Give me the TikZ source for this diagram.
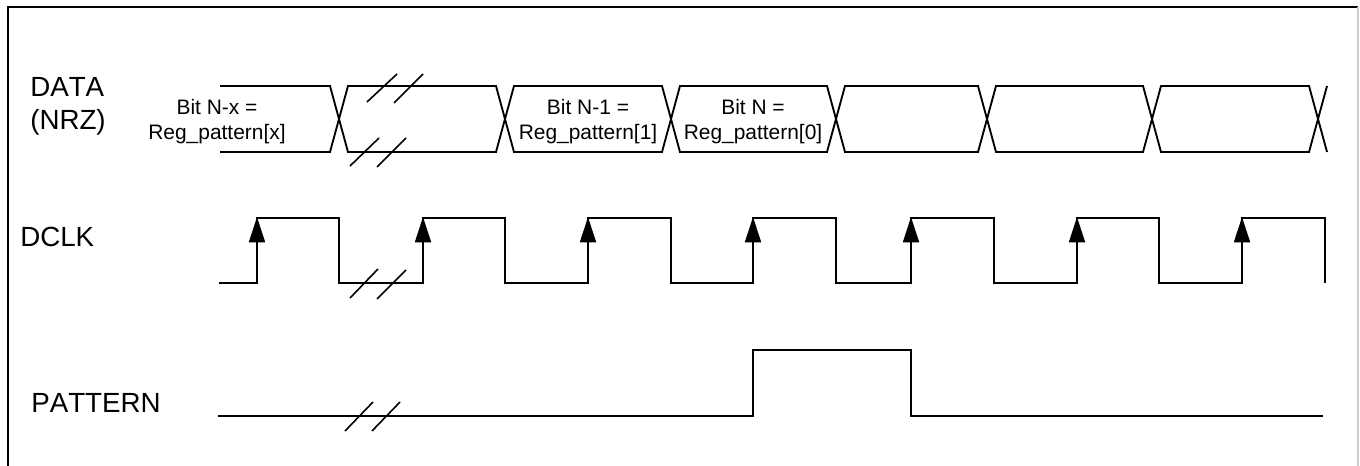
\documentclass[tikz,border=0pt]{standalone}
\usepackage{fontspec}
\setmainfont{Liberation Sans}[Kerning=Off]
\usetikzlibrary{arrows.meta}
\tikzset{
  sig/.style={line width=1.4pt, line join=miter, line cap=butt},
  brk/.style={line width=1.2pt},
  frame/.style={line width=1.4pt},
  edge/.style={line width=1.4pt, -{Triangle[length=19pt 0 0,width=12pt 0 0]}},
  big/.style={font=\fontsize{20.8}{24}\selectfont, inner sep=0pt},
  small/.style={font=\fontsize{15.7}{19}\selectfont, inner sep=0pt, anchor=base},
}
\begin{document}
\begin{tikzpicture}[x=0.75pt,y=-0.75pt]
\useasboundingbox (0,0) rectangle (1360,466);
% frame
\draw[frame] (8,466) -- (8,7) -- (1358,7);
\draw[line width=0.8pt, black!20] (1358,7) -- (1358,466);

% labels
\node[big, anchor=base west] (ldata) at (30,97) {DATA};
\node[big, anchor=base west] (lnrz) at (30,130) {(NRZ)};
\node[big, anchor=base west] (ldclk) at (20,247) {DCLK};
\node[big, anchor=base west] (lpat) at (31,412) {PATTERN};

% DATA waveform
\draw[sig] (220,86) -- (330,86) -- (339,119) -- (330,152) -- (220,152);
\foreach \a/\b in {339/505, 505/671, 671/836, 836/987, 987/1152, 1152/1318}{
  \draw[sig] (\a,119) -- (\a+9,86) -- (\b-9,86) -- (\b,119) -- (\b-9,152) -- (\a+9,152) -- cycle;
}
\draw[sig] (1318,119) -- (1327,86);
\draw[sig] (1318,119) -- (1327,152);

% data labels
\node[small] (t1a) at (217,114.5) {Bit N-x =};
\node[small] (t1b) at (217,139.5) {Reg\_pattern[x]};
\node[small] (t2a) at (588,114.5) {Bit N-1 =};
\node[small] (t2b) at (588,139.5) {Reg\_pattern[1]};
\node[small] (t3a) at (753,114.5) {Bit N =};
\node[small] (t3b) at (753,139.5) {Reg\_pattern[0]};

% DCLK waveform
\draw[sig] (219,283) -- (257,283) -- (257,218) -- (339,218) -- (339,283)
  -- (423,283) -- (423,218) -- (505,218) -- (505,283)
  -- (588,283) -- (588,218) -- (671,218) -- (671,283)
  -- (753,283) -- (753,218) -- (836,218) -- (836,283)
  -- (911,283) -- (911,218) -- (994,218) -- (994,283)
  -- (1077,283) -- (1077,218) -- (1159,218) -- (1159,283)
  -- (1242,283) -- (1242,218) -- (1325,218) -- (1325,283);
\foreach \x in {257,423,588,753,911,1077,1242}{
  \draw[edge] (\x,265) -- (\x,217);
}

% PATTERN waveform
\draw[sig] (218,416) -- (753,416) -- (753,350) -- (911,350) -- (911,416) -- (1323,416);

% break marks
\draw[brk] (367,102) -- (397,74);
\draw[brk] (394,103) -- (423,74);
\draw[brk] (350,166) -- (379,138);
\draw[brk] (377,167) -- (406,138);
\draw[brk] (350,298) -- (378,269);
\draw[brk] (377,299) -- (406,270);
\draw[brk] (345,431) -- (373,402);
\draw[brk] (372,431) -- (400,402);
\end{tikzpicture}
\end{document}
